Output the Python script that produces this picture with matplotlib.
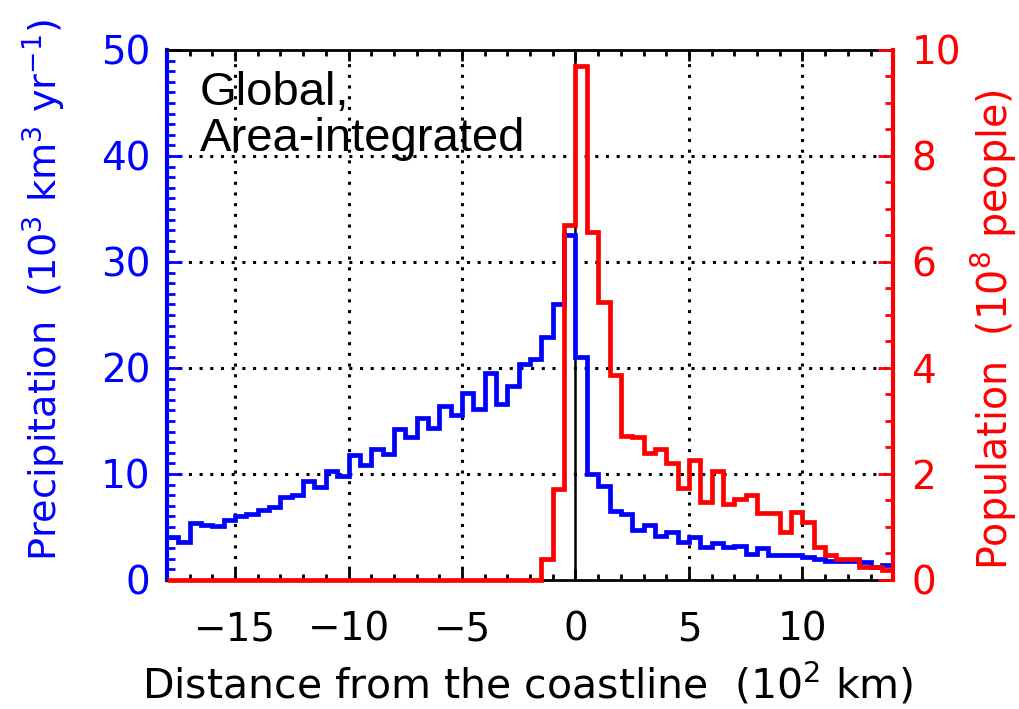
import numpy as np
import matplotlib
matplotlib.use("Agg")
import matplotlib.pyplot as plt
from matplotlib.ticker import MultipleLocator

plt.rcParams['font.family'] = ['DejaVu Sans']
plt.rcParams['mathtext.default'] = 'regular'

# bin edges: 0.5 (10^2 km) bins from -18 to 14
bin_edges = np.arange(-18, 14.01, 0.5)

# area-integrated precipitation (10^3 km^3/yr), one value per bin
precip = [4.1, 3.6, 5.35, 5.2, 5.1, 5.7, 6.0, 6.2, 6.6, 6.9,
          7.8, 8.0, 9.3, 8.8, 10.3, 9.8, 11.8, 10.8, 12.4, 11.9,
          14.2, 13.5, 15.3, 14.3, 16.4, 15.6, 17.6, 16.1, 19.5, 16.6,
          18.3, 20.4, 20.8, 22.9, 26.0, 32.5, 21.0, 10.0, 8.9, 6.5,
          6.2, 4.7, 5.2, 4.15, 4.5, 3.55, 4.1, 3.15, 3.5, 3.1,
          3.2, 2.45, 3.0, 2.4, 2.4, 2.35, 2.2, 1.95, 1.75, 1.75,
          1.75, 1.7, 1.2, 1.4]

# population (10^8 people), one value per bin
population = [0] * 33 + [0.39, 1.72, 6.7, 9.7, 6.56, 5.25, 3.87,
              2.72, 2.69, 2.4, 2.48, 2.21, 1.73, 2.26, 1.48, 2.06, 1.43,
              1.52, 1.6, 1.26, 1.26, 0.91, 1.29, 1.1, 0.62, 0.47, 0.39,
              0.39, 0.25, 0.24, 0.18]

blue = '#0000ff'
red = '#ff0000'

fig = plt.figure(figsize=(10.2, 7.09), dpi=100)
ax = fig.add_axes([0.1637, 0.182, 0.712, 0.7475])
ax2 = ax.twinx()

ax.set_xlim(-18, 14)
ax.set_ylim(0, 50)
ax2.set_ylim(0, 10)

# grid and zero line
dots = (0, (1, 2.5))
for gx in [-15, -10, -5, 5, 10]:
    ax.axvline(gx, color='black', lw=2.2, ls=dots, zorder=0)
for gy in [10, 20, 30, 40]:
    ax.axhline(gy, color='black', lw=2.2, ls=dots, zorder=0)
ax.axvline(0, color='black', lw=1.8, zorder=1)

ax.stairs(precip, bin_edges, color=blue, lw=3.4, baseline=None, zorder=3)
ax2.stairs(population, bin_edges, color=red, lw=3.4, baseline=None,
           zorder=3, clip_on=False)

# spines
ax.spines['left'].set_color(blue)
ax.spines['left'].set_linewidth(3)
ax.spines['right'].set_visible(False)
ax.spines['top'].set_linewidth(2)
ax.spines['bottom'].set_linewidth(2)
for s in ['left', 'top', 'bottom']:
    ax2.spines[s].set_visible(False)
ax2.spines['right'].set_color(red)
ax2.spines['right'].set_linewidth(3)

# ticks
ax.set_xticks([-15, -10, -5, 0, 5, 10])
ax.xaxis.set_minor_locator(MultipleLocator(1))
ax.tick_params(axis='x', which='major', direction='in', top=True, length=8,
               width=2, labelsize=28, pad=22)
ax.tick_params(axis='x', which='minor', direction='in', top=True, length=4,
               width=2)
ax.set_xticklabels(['\u221215', '\u221210', '\u22125', '0', '5', '10'])

ax.set_yticks([0, 10, 20, 30, 40, 50])
ax.yaxis.set_minor_locator(MultipleLocator(1))
ax.tick_params(axis='y', which='major', direction='in', length=11, width=2,
               colors=blue, labelsize=28, pad=12)
ax.tick_params(axis='y', which='minor', direction='in', length=6, width=2,
               colors=blue)

ax2.set_yticks([0, 2, 4, 6, 8, 10])
ax2.yaxis.set_minor_locator(MultipleLocator(0.5))
ax2.tick_params(axis='y', which='major', direction='in', length=11, width=2,
                colors=red, labelsize=28, pad=13)
ax2.tick_params(axis='y', which='minor', direction='in', length=6, width=2,
                colors=red)

# labels
fig.text(0.044, 0.591, 'Precipitation  (10$^3$ km$^3$ yr$^{-1}$)',
         rotation=90, ha='center', va='center', color=blue, fontsize=27.5)
fig.text(0.974, 0.535, 'Population  (10$^8$ people)',
         rotation=90, ha='center', va='center', color=red, fontsize=28.5)
fig.text(0.517, 0.035, 'Distance from the coastline  (10$^2$ km)',
         ha='center', va='center', color='black', fontsize=29.5)

ax.text(0.045, 0.96, 'Global,\nArea-integrated', transform=ax.transAxes,
        ha='left', va='top', fontsize=34, family='Liberation Sans',
        linespacing=1.05, zorder=5)

fig.savefig('out.png', dpi=100)
